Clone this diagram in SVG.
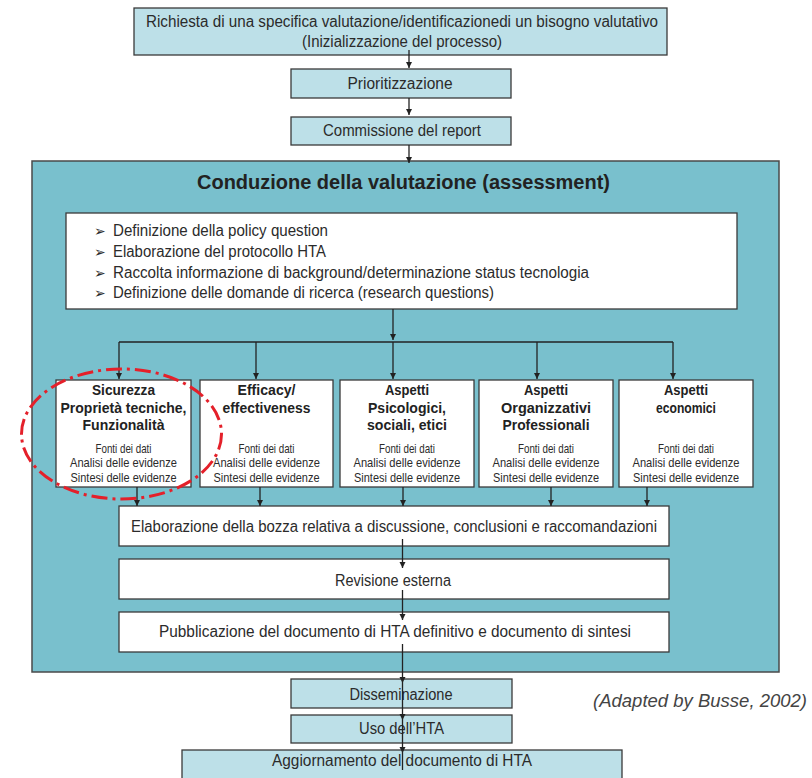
<svg xmlns="http://www.w3.org/2000/svg" width="812" height="778" viewBox="0 0 812 778">
  <defs>
    <marker id="arr" viewBox="0 0 10 10" refX="10" refY="5" markerWidth="6" markerHeight="7" markerUnits="userSpaceOnUse" orient="auto">
      <path d="M0,0 L10,5 L0,10 Z" fill="#222"/>
    </marker>
    <style>
      .lb { fill: #bde0e8; stroke: #3a3a3a; stroke-width: 1.3; }
      .wb { fill: #ffffff; stroke: #3a3a3a; stroke-width: 1.3; }
      .big { fill: #79c0cd; stroke: #4a4a4a; stroke-width: 1.5; }
      .t { font-family: "Liberation Sans", Arial, sans-serif; font-size: 16px; fill: #2b2b2b; }
      .c { text-anchor: middle; }
      .hd { font-family: "Liberation Sans", Arial, sans-serif; font-weight: bold; font-size: 20px; fill: #222; text-anchor: middle; }
      .bh { font-family: "Liberation Sans", Arial, sans-serif; font-weight: bold; font-size: 15.5px; fill: #222; text-anchor: middle; }
      .sm { font-family: "Liberation Sans", Arial, sans-serif; font-size: 13px; fill: #2b2b2b; text-anchor: middle; }
      .bul { font-family: "DejaVu Sans", sans-serif; font-size: 14px; fill: #2b2b2b; }
      .cn { fill: none; stroke: #222; stroke-width: 1.3; }
      .cite { font-family: "Liberation Sans", Arial, sans-serif; font-style: italic; font-size: 19px; fill: #444; }
    </style>
  </defs>

  <rect width="812" height="778" fill="#ffffff"/>

  <!-- request box -->
  <g id="richiesta">
    <rect class="lb" x="134" y="8" width="533" height="47"/>
    <text class="t c" x="402" y="27" textLength="512" lengthAdjust="spacingAndGlyphs">Richiesta di una specifica valutazione/identificazionedi un bisogno valutativo</text>
    <text class="t c" x="402" y="47" textLength="200" lengthAdjust="spacingAndGlyphs">(Inizializzazione del processo)</text>
  </g>

  <g id="prioritizzazione">
    <rect class="lb" x="291" y="69" width="220" height="29"/>
    <text class="t c" x="400" y="89" textLength="105" lengthAdjust="spacingAndGlyphs">Prioritizzazione</text>
  </g>

  <g id="commissione">
    <rect class="lb" x="291" y="117" width="220" height="28"/>
    <text class="t c" x="402" y="136" textLength="158" lengthAdjust="spacingAndGlyphs">Commissione del report</text>
  </g>

  <!-- assessment container -->
  <g id="conduzione">
    <rect class="big" x="32" y="161" width="747" height="511"/>
    <text class="hd" x="403.5" y="189" textLength="413" lengthAdjust="spacingAndGlyphs">Conduzione della valutazione (assessment)</text>
  </g>

  <g id="definizione">
    <rect class="wb" x="66" y="213" width="671" height="96"/>
    <text class="bul" x="94" y="236">➢</text>
    <text class="bul" x="94" y="257">➢</text>
    <text class="bul" x="94" y="278">➢</text>
    <text class="bul" x="94" y="298">➢</text>
    <text class="t" x="113" y="236" textLength="215" lengthAdjust="spacingAndGlyphs">Definizione della policy question</text>
    <text class="t" x="113" y="257" textLength="213" lengthAdjust="spacingAndGlyphs">Elaborazione del protocollo HTA</text>
    <text class="t" x="113" y="278" textLength="476" lengthAdjust="spacingAndGlyphs">Raccolta informazione di background/determinazione status tecnologia</text>
    <text class="t" x="113" y="298" textLength="381" lengthAdjust="spacingAndGlyphs">Definizione delle domande di ricerca (research questions)</text>
  </g>

  <!-- assessment domains -->
  <g id="sicurezza">
    <rect class="wb" x="56" y="380" width="135" height="107"/>
    <text class="bh" x="123.5" y="395" textLength="63" lengthAdjust="spacingAndGlyphs">Sicurezza</text>
    <text class="bh" x="123.5" y="412.5" textLength="126" lengthAdjust="spacingAndGlyphs">Proprietà tecniche,</text>
    <text class="bh" x="123.5" y="430" textLength="82" lengthAdjust="spacingAndGlyphs">Funzionalità</text>
    <text class="sm" x="123.5" y="452.5" textLength="56" lengthAdjust="spacingAndGlyphs">Fonti dei dati</text>
    <text class="sm" x="123.5" y="467" textLength="107" lengthAdjust="spacingAndGlyphs">Analisi delle evidenze</text>
    <text class="sm" x="123.5" y="481.5" textLength="106" lengthAdjust="spacingAndGlyphs">Sintesi delle evidenze</text>
  </g>

  <g id="efficacy">
    <rect class="wb" x="200" y="380" width="133" height="107"/>
    <text class="bh" x="266.5" y="395" textLength="58" lengthAdjust="spacingAndGlyphs">Efficacy/</text>
    <text class="bh" x="266.5" y="412.5" textLength="88" lengthAdjust="spacingAndGlyphs">effectiveness</text>
    <text class="sm" x="266.5" y="452.5" textLength="56" lengthAdjust="spacingAndGlyphs">Fonti dei dati</text>
    <text class="sm" x="266.5" y="467" textLength="107" lengthAdjust="spacingAndGlyphs">Analisi delle evidenze</text>
    <text class="sm" x="266.5" y="481.5" textLength="106" lengthAdjust="spacingAndGlyphs">Sintesi delle evidenze</text>
  </g>

  <g id="psicologici">
    <rect class="wb" x="340" y="380" width="134" height="107"/>
    <text class="bh" x="407" y="395" textLength="44" lengthAdjust="spacingAndGlyphs">Aspetti</text>
    <text class="bh" x="407" y="412.5" textLength="78" lengthAdjust="spacingAndGlyphs">Psicologici,</text>
    <text class="bh" x="407" y="430" textLength="80" lengthAdjust="spacingAndGlyphs">sociali, etici</text>
    <text class="sm" x="407" y="452.5" textLength="56" lengthAdjust="spacingAndGlyphs">Fonti dei dati</text>
    <text class="sm" x="407" y="467" textLength="107" lengthAdjust="spacingAndGlyphs">Analisi delle evidenze</text>
    <text class="sm" x="407" y="481.5" textLength="106" lengthAdjust="spacingAndGlyphs">Sintesi delle evidenze</text>
  </g>

  <g id="organizzativi">
    <rect class="wb" x="479" y="380" width="134" height="107"/>
    <text class="bh" x="546" y="395" textLength="44" lengthAdjust="spacingAndGlyphs">Aspetti</text>
    <text class="bh" x="546" y="412.5" textLength="90" lengthAdjust="spacingAndGlyphs">Organizzativi</text>
    <text class="bh" x="546" y="430" textLength="87" lengthAdjust="spacingAndGlyphs">Professionali</text>
    <text class="sm" x="546" y="452.5" textLength="56" lengthAdjust="spacingAndGlyphs">Fonti dei dati</text>
    <text class="sm" x="546" y="467" textLength="107" lengthAdjust="spacingAndGlyphs">Analisi delle evidenze</text>
    <text class="sm" x="546" y="481.5" textLength="106" lengthAdjust="spacingAndGlyphs">Sintesi delle evidenze</text>
  </g>

  <g id="economici">
    <rect class="wb" x="619" y="380" width="134" height="107"/>
    <text class="bh" x="686" y="395" textLength="44" lengthAdjust="spacingAndGlyphs">Aspetti</text>
    <text class="bh" x="686" y="412.5" textLength="60" lengthAdjust="spacingAndGlyphs">economici</text>
    <text class="sm" x="686" y="452.5" textLength="56" lengthAdjust="spacingAndGlyphs">Fonti dei dati</text>
    <text class="sm" x="686" y="467" textLength="107" lengthAdjust="spacingAndGlyphs">Analisi delle evidenze</text>
    <text class="sm" x="686" y="481.5" textLength="106" lengthAdjust="spacingAndGlyphs">Sintesi delle evidenze</text>
  </g>

  <g id="elaborazione">
    <rect class="wb" x="119" y="506" width="550" height="40"/>
    <text class="t c" x="394" y="532" textLength="526" lengthAdjust="spacingAndGlyphs">Elaborazione della bozza relativa a discussione, conclusioni e raccomandazioni</text>
  </g>

  <g id="revisione">
    <rect class="wb" x="119" y="559" width="550" height="40"/>
    <text class="t c" x="393" y="586" textLength="116" lengthAdjust="spacingAndGlyphs">Revisione esterna</text>
  </g>

  <g id="pubblicazione">
    <rect class="wb" x="119" y="612" width="550" height="40"/>
    <text class="t c" x="395" y="637" textLength="472" lengthAdjust="spacingAndGlyphs">Pubblicazione del documento di HTA definitivo e documento di sintesi</text>
  </g>

  <g id="disseminazione">
    <rect class="lb" x="291" y="679" width="221" height="29"/>
    <text class="t c" x="401" y="700" textLength="103" lengthAdjust="spacingAndGlyphs">Disseminazione</text>
  </g>

  <g id="uso">
    <rect class="lb" x="291" y="715" width="221" height="28"/>
    <text class="t c" x="401.5" y="734" textLength="85" lengthAdjust="spacingAndGlyphs">Uso dell’HTA</text>
  </g>

  <g id="aggiornamento">
    <rect class="lb" x="182" y="750" width="440" height="34"/>
    <text class="t c" x="402" y="766" textLength="260" lengthAdjust="spacingAndGlyphs">Aggiornamento del documento di HTA</text>
  </g>

  <!-- connectors -->
  <g id="connectors">
    <path class="cn" d="M409,50 V68" marker-end="url(#arr)"/>
    <path class="cn" d="M409,98 V115" marker-end="url(#arr)"/>
    <path class="cn" d="M409,145 V163" marker-end="url(#arr)"/>

    <path class="cn" d="M393,309 V340" marker-end="url(#arr)"/>
    <path class="cn" d="M119,342 H673"/>
    <path class="cn" d="M119,342 V379" marker-end="url(#arr)"/>
    <path class="cn" d="M256,342 V379" marker-end="url(#arr)"/>
    <path class="cn" d="M393,342 V379" marker-end="url(#arr)"/>
    <path class="cn" d="M537,342 V379" marker-end="url(#arr)"/>
    <path class="cn" d="M673,342 V379" marker-end="url(#arr)"/>

    <path class="cn" d="M137,487 V506" marker-end="url(#arr)"/>
    <path class="cn" d="M260,487 V506" marker-end="url(#arr)"/>
    <path class="cn" d="M403,487 V506" marker-end="url(#arr)"/>
    <path class="cn" d="M551,487 V506" marker-end="url(#arr)"/>
    <path class="cn" d="M647,487 V506" marker-end="url(#arr)"/>

    <path class="cn" d="M402.5,539 V568" marker-end="url(#arr)"/>
    <path class="cn" d="M402.5,590 V620" marker-end="url(#arr)"/>
    <path class="cn" d="M402.5,644 V683" marker-end="url(#arr)"/>
    <path class="cn" d="M402.5,683 V720" marker-end="url(#arr)"/>
    <path class="cn" d="M402.5,720 V753" marker-end="url(#arr)"/>
    <path class="cn" d="M402.5,753 V770"/>
  </g>

  <!-- highlight around the safety domain -->
  <ellipse cx="121.5" cy="434" rx="100" ry="65" fill="none" stroke="#e4202a" stroke-width="3" stroke-dasharray="16 5 3 5"/>

  <text class="cite" x="593" y="707" textLength="214" lengthAdjust="spacingAndGlyphs">(Adapted by Busse, 2002)</text>
</svg>
